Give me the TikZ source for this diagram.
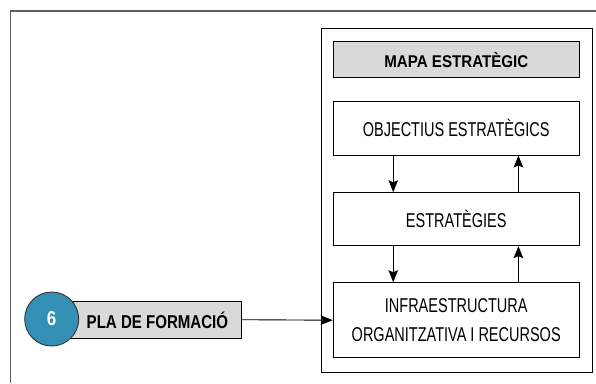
\documentclass[tikz,border=0pt]{standalone}
\usepackage{fontspec}
\setmainfont{Liberation Sans}
\newfontface\regfont{Liberation Sans}[FakeStretch=0.725]
\newfontface\mapafont{Liberation Sans Bold}[FakeStretch=0.89]
\newfontface\plafont{Liberation Sans Bold}[FakeStretch=0.81]
\newfontface\sixfont{Liberation Sans Bold}[FakeStretch=0.85]
\usetikzlibrary{arrows.meta,calc}
\definecolor{boxgray}{HTML}{D9D9D9}
\definecolor{circblue}{HTML}{3490B5}
\definecolor{framegray}{HTML}{606060}
\tikzset{
  box/.style={draw=black, line width=0.9pt, minimum width=246pt, inner sep=0pt, align=center, font=\regfont\fontsize{20}{28.5}\selectfont},
  title/.style={box, fill=boxgray, font=\mapafont\fontsize{17}{20}\selectfont},
  arr/.style={line width=0.9pt, -{Stealth[length=12pt,width=9.5pt,inset=2pt]}},
}
\begin{document}
\begin{tikzpicture}[x=1pt,y=-1pt]
\useasboundingbox (0,0) rectangle (596,383);
% outer frame (open at right and bottom)
\draw[framegray, line width=1.2pt] (10.8,383) -- (10.8,11) -- (596,11);
% map container
\node[draw=black, line width=0.9pt, minimum width=270.3pt, minimum height=344.4pt, inner sep=0pt] (map) at (456.85,200.5) {};
\node[title, minimum height=36pt] (mapa) at (456.3,59.7) {MAPA ESTRATÈGIC};
\node[box, minimum height=53.3pt] (obj) at (456.2,128.35) {OBJECTIUS ESTRATÈGICS};
\node[box, minimum height=53pt] (estr) at (456.2,219.2) {ESTRATÈGIES};
\node[box, minimum height=75pt] (infra) at (456.2,320.2) {INFRAESTRUCTURA\\ORGANITZATIVA I RECURSOS};
% pla de formacio
\node[draw=black, line width=0.9pt, fill=boxgray, minimum width=176pt, minimum height=37.3pt, inner sep=0pt] (pla) at (153,319.7) {};
\node[font=\plafont\fontsize{18.6}{20}\selectfont, anchor=west, inner sep=0pt] (platext) at (86.5,320) {PLA DE FORMACIÓ};
\node[circle, draw=black!80, line width=0.9pt, fill=circblue, minimum size=54pt, inner sep=0pt, text=white, font=\sixfont\fontsize{20}{20}\selectfont] (six) at (51.7,319) {6};
% connectors
\draw[arr] ($(obj.south west)!0.245!(obj.south east)$) -- ($(estr.north west)!0.245!(estr.north east)$);
\draw[arr] ($(estr.north west)!0.752!(estr.north east)$) -- ($(obj.south west)!0.752!(obj.south east)$);
\draw[arr] ($(estr.south west)!0.245!(estr.south east)$) -- ($(infra.north west)!0.245!(infra.north east)$);
\draw[arr] ($(infra.north west)!0.752!(infra.north east)$) -- ($(estr.south west)!0.752!(estr.south east)$);
\draw[arr] (pla.east) -- (infra.west);
\end{tikzpicture}
\end{document}
